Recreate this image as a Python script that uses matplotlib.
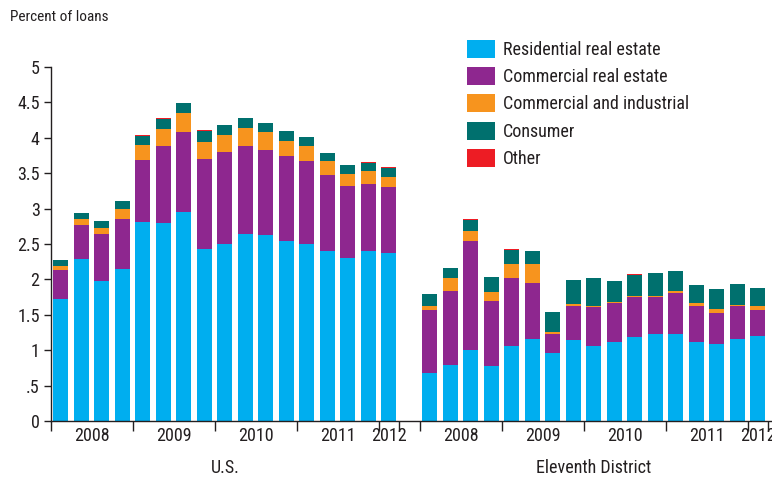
import matplotlib
matplotlib.use("Agg")
import matplotlib.pyplot as plt
import numpy as np
from matplotlib.patches import Patch
from matplotlib import font_manager as fm

available = {f.name for f in fm.fontManager.ttflist}
candidates = ['Roboto Condensed', 'Liberation Sans Narrow', 'Archivo Narrow',
              'Arial Narrow', 'PT Sans Narrow', 'Fira Sans Condensed',
              'IBM Plex Sans Condensed', 'Liberation Sans']
chosen = next((c for c in candidates if c in available), 'DejaVu Sans')
plt.rcParams['font.family'] = [chosen, 'DejaVu Sans']

series_names = ["Residential real estate", "Commercial real estate",
                "Commercial and industrial", "Consumer", "Other"]
colors = ["#00AEEF", "#8E278F", "#F7941E", "#00706E", "#ED1C24"]

years = ["2008", "2009", "2010", "2011", "2012"]
quarters_per_year = [4, 4, 4, 4, 1]
groups = ["U.S.", "Eleventh District"]

us_resi = [1.72, 2.29, 1.98, 2.15, 2.81, 2.80, 2.95, 2.43, 2.50, 2.64, 2.63, 2.54, 2.50, 2.40, 2.30, 2.40, 2.37]
us_cre = [0.41, 0.48, 0.66, 0.70, 0.88, 1.08, 1.13, 1.27, 1.30, 1.24, 1.20, 1.20, 1.17, 1.08, 1.02, 0.95, 0.94]
us_ci = [0.06, 0.08, 0.09, 0.14, 0.21, 0.24, 0.27, 0.24, 0.24, 0.26, 0.25, 0.22, 0.21, 0.19, 0.17, 0.18, 0.14]
us_cons = [0.08, 0.09, 0.10, 0.12, 0.13, 0.15, 0.14, 0.16, 0.14, 0.14, 0.13, 0.14, 0.13, 0.11, 0.13, 0.11, 0.13]
us_other = [0, 0, 0, 0, 0.01, 0.015, 0, 0.015, 0, 0, 0, 0, 0, 0.01, 0, 0.015, 0.01]

ed_resi = [0.68, 0.79, 1.00, 0.78, 1.06, 1.16, 0.96, 1.14, 1.06, 1.12, 1.19, 1.23, 1.23, 1.12, 1.09, 1.16, 1.20]
ed_cre = [0.89, 1.05, 1.54, 0.92, 0.96, 0.79, 0.27, 0.48, 0.55, 0.55, 0.56, 0.52, 0.58, 0.50, 0.44, 0.46, 0.37]
ed_ci = [0.05, 0.18, 0.14, 0.12, 0.20, 0.27, 0.03, 0.03, 0.01, 0.01, 0.02, 0.02, 0.03, 0.05, 0.05, 0.02, 0.05]
ed_cons = [0.17, 0.14, 0.16, 0.21, 0.20, 0.18, 0.28, 0.34, 0.40, 0.30, 0.29, 0.32, 0.28, 0.25, 0.28, 0.30, 0.26]
ed_other = [0, 0, 0.01, 0.01, 0.015, 0, 0, 0, 0, 0, 0.02, 0, 0, 0, 0, 0, 0]

yticks = [0, 0.5, 1, 1.5, 2, 2.5, 3, 3.5, 4, 4.5, 5]
ytick_labels = ["0", ".5", "1", "1.5", "2", "2.5", "3", "3.5", "4", "4.5", "5"]

txt = "#231F20"
fig = plt.figure(figsize=(7.72, 4.79), dpi=100)
ax = fig.add_axes([50.7 / 772, 1 - 421 / 479, 1 - 50.7 / 772, (421 - 67) / 479])

n = len(us_resi)
us_x = np.arange(n) + 0.5
ed_x = np.arange(n) + n + 1 + 0.5
width = 0.73

for xs, data in [(us_x, [us_resi, us_cre, us_ci, us_cons, us_other]),
                 (ed_x, [ed_resi, ed_cre, ed_ci, ed_cons, ed_other])]:
    bottom = np.zeros(n)
    for vals, c in zip(data, colors):
        v = np.array(vals, dtype=float)
        ax.bar(xs, v, width=width, bottom=bottom, color=c, linewidth=0)
        bottom += v

ax.set_xlim(0, (772 - 50.7) / 20.5)
ax.set_ylim(0, 5)
ax.spines['top'].set_visible(False)
ax.spines['right'].set_visible(False)
for s in ['left', 'bottom']:
    ax.spines[s].set_color(txt)
    ax.spines[s].set_linewidth(1.0)

ax.set_yticks(yticks)
ax.set_yticklabels(ytick_labels)
ax.tick_params(axis='y', direction='out', length=5, width=1, color=txt,
               labelsize=13, labelcolor=txt, pad=3)

bounds = []
label_pos = []
label_txt = []
for start in [0, n + 1]:
    pos = start
    bounds.append(pos)
    for y, q in zip(years, quarters_per_year):
        label_pos.append(pos + q / 2)
        label_txt.append(y)
        pos += q
        bounds.append(pos)
ax.set_xticks(bounds)
ax.set_xticklabels([])
ax.tick_params(axis='x', direction='out', length=7, width=1, color=txt)
ax.set_xticks(label_pos, minor=True)
ax.set_xticklabels(label_txt, minor=True)
ax.tick_params(axis='x', which='minor', length=0, labelsize=13, labelcolor=txt, pad=4)

ax.text(n / 2, -0.67, groups[0], ha='center', va='center', fontsize=13, color=txt)
ax.text(n + 1 + n / 2, -0.67, groups[1], ha='center', va='center', fontsize=13, color=txt)

fig.text(10 / 772, 1 - 17 / 479, "Percent of loans", ha='left', va='center',
         fontsize=11, color=txt)

handles = [Patch(facecolor=c, edgecolor='none') for c in colors]
leg = fig.legend(handles, series_names, loc='upper left',
                 bbox_to_anchor=(467 / 772, 1 - 40 / 479), frameon=False,
                 fontsize=13, handlelength=1.55, handleheight=1.15,
                 handletextpad=0.45, labelspacing=0.45, borderaxespad=0,
                 borderpad=0)
for t in leg.get_texts():
    t.set_color(txt)

fig.savefig("out.png", dpi=100)
